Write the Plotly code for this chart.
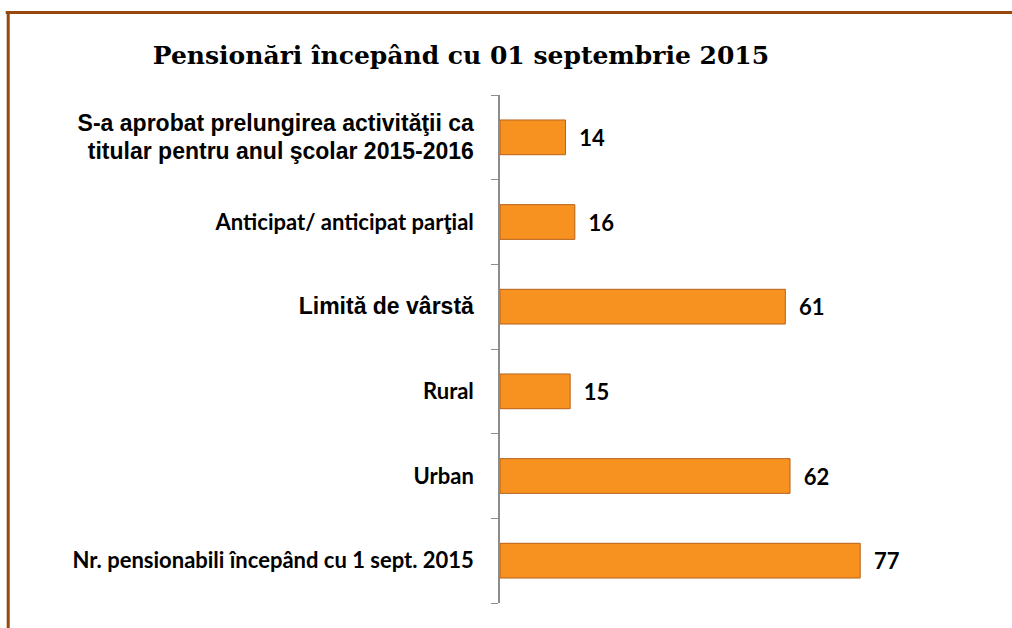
import plotly.graph_objects as go

# Data (top to bottom as in the reference)
categories = [
    "S-a aprobat prelungirea activităţii ca<br>titular pentru anul şcolar 2015-2016",
    "Anticipat/ anticipat parţial",
    "Limită de vârstă",
    "Rural",
    "Urban",
    "Nr. pensionabili începând cu 1 sept. 2015",
]
values = [14, 16, 61, 15, 62, 77]
arial_labels = {0, 2}  # labels drawn in the Arial-like font in the original

title_text = "Pensionări începând cu 01 septembrie 2015"

W, H = 1012, 628
ML, MT, MB = 500, 95, 25
X_MAX = 90
PX_PER_UNIT = 4.675
plot_w = X_MAX * PX_PER_UNIT
MR = W - ML - plot_w
plot_h = H - MT - MB

tick_text = []
for i, c in enumerate(categories):
    if i in arial_labels:
        tick_text.append(
            '<span style="font-family:\'Liberation Sans\', Arial, sans-serif;font-size:23px">'
            + c + "</span>")
    else:
        tick_text.append(c)

fig = go.Figure()
fig.add_trace(go.Bar(
    y=categories,
    x=values,
    orientation="h",
    marker=dict(color="#F7911F", line=dict(color="#B9621A", width=1)),
    text=values,
    texttemplate="\u00a0\u00a0%{text}",
    textposition="outside",
    cliponaxis=False,
    textfont=dict(family="Lato, 'Open Sans', sans-serif", size=22, color="black", weight="bold"),
    hoverinfo="skip",
))


def px_to_paper_x(px):
    return (px - ML) / plot_w


def px_to_paper_y(py):
    return (H - MB - py) / plot_h


border_color = "#97480F"
shapes = [
    dict(type="line", xref="paper", yref="paper",
         x0=px_to_paper_x(6), x1=px_to_paper_x(1012),
         y0=px_to_paper_y(12.5), y1=px_to_paper_y(12.5),
         line=dict(color=border_color, width=3)),
    dict(type="line", xref="paper", yref="paper",
         x0=px_to_paper_x(8.5), x1=px_to_paper_x(8.5),
         y0=px_to_paper_y(11), y1=px_to_paper_y(628),
         line=dict(color=border_color, width=3)),
]

fig.update_layout(
    width=W, height=H,
    margin=dict(l=ML, r=MR, t=MT, b=MB, pad=0),
    paper_bgcolor="white", plot_bgcolor="white",
    showlegend=False,
    bargap=0.59,
    title=dict(
        text=title_text, x=461 / W, xanchor="center", xref="container",
        y=1 - 55 / H, yanchor="middle", yref="container",
        font=dict(family="'DejaVu Serif', serif", size=25, color="black", weight="bold"),
    ),
    xaxis=dict(range=[0, X_MAX], visible=False, showgrid=False, zeroline=False),
    yaxis=dict(
        autorange="reversed",
        tickmode="array", tickvals=categories, ticktext=tick_text,
        tickson="boundaries",
        ticks="outside", ticklen=7, tickcolor="#8C8C8C", tickwidth=1,
        showline=True, linecolor="#8C8C8C", linewidth=1.5,
        showgrid=False, zeroline=False,
        ticklabelstandoff=20,
        tickfont=dict(family="Lato, 'Open Sans', sans-serif", size=22, color="black", weight="bold"),
    ),
    shapes=shapes,
)

fig.write_html("out.html", config={"displayModeBar": False},
               post_script="document.body.style.margin='0';")
